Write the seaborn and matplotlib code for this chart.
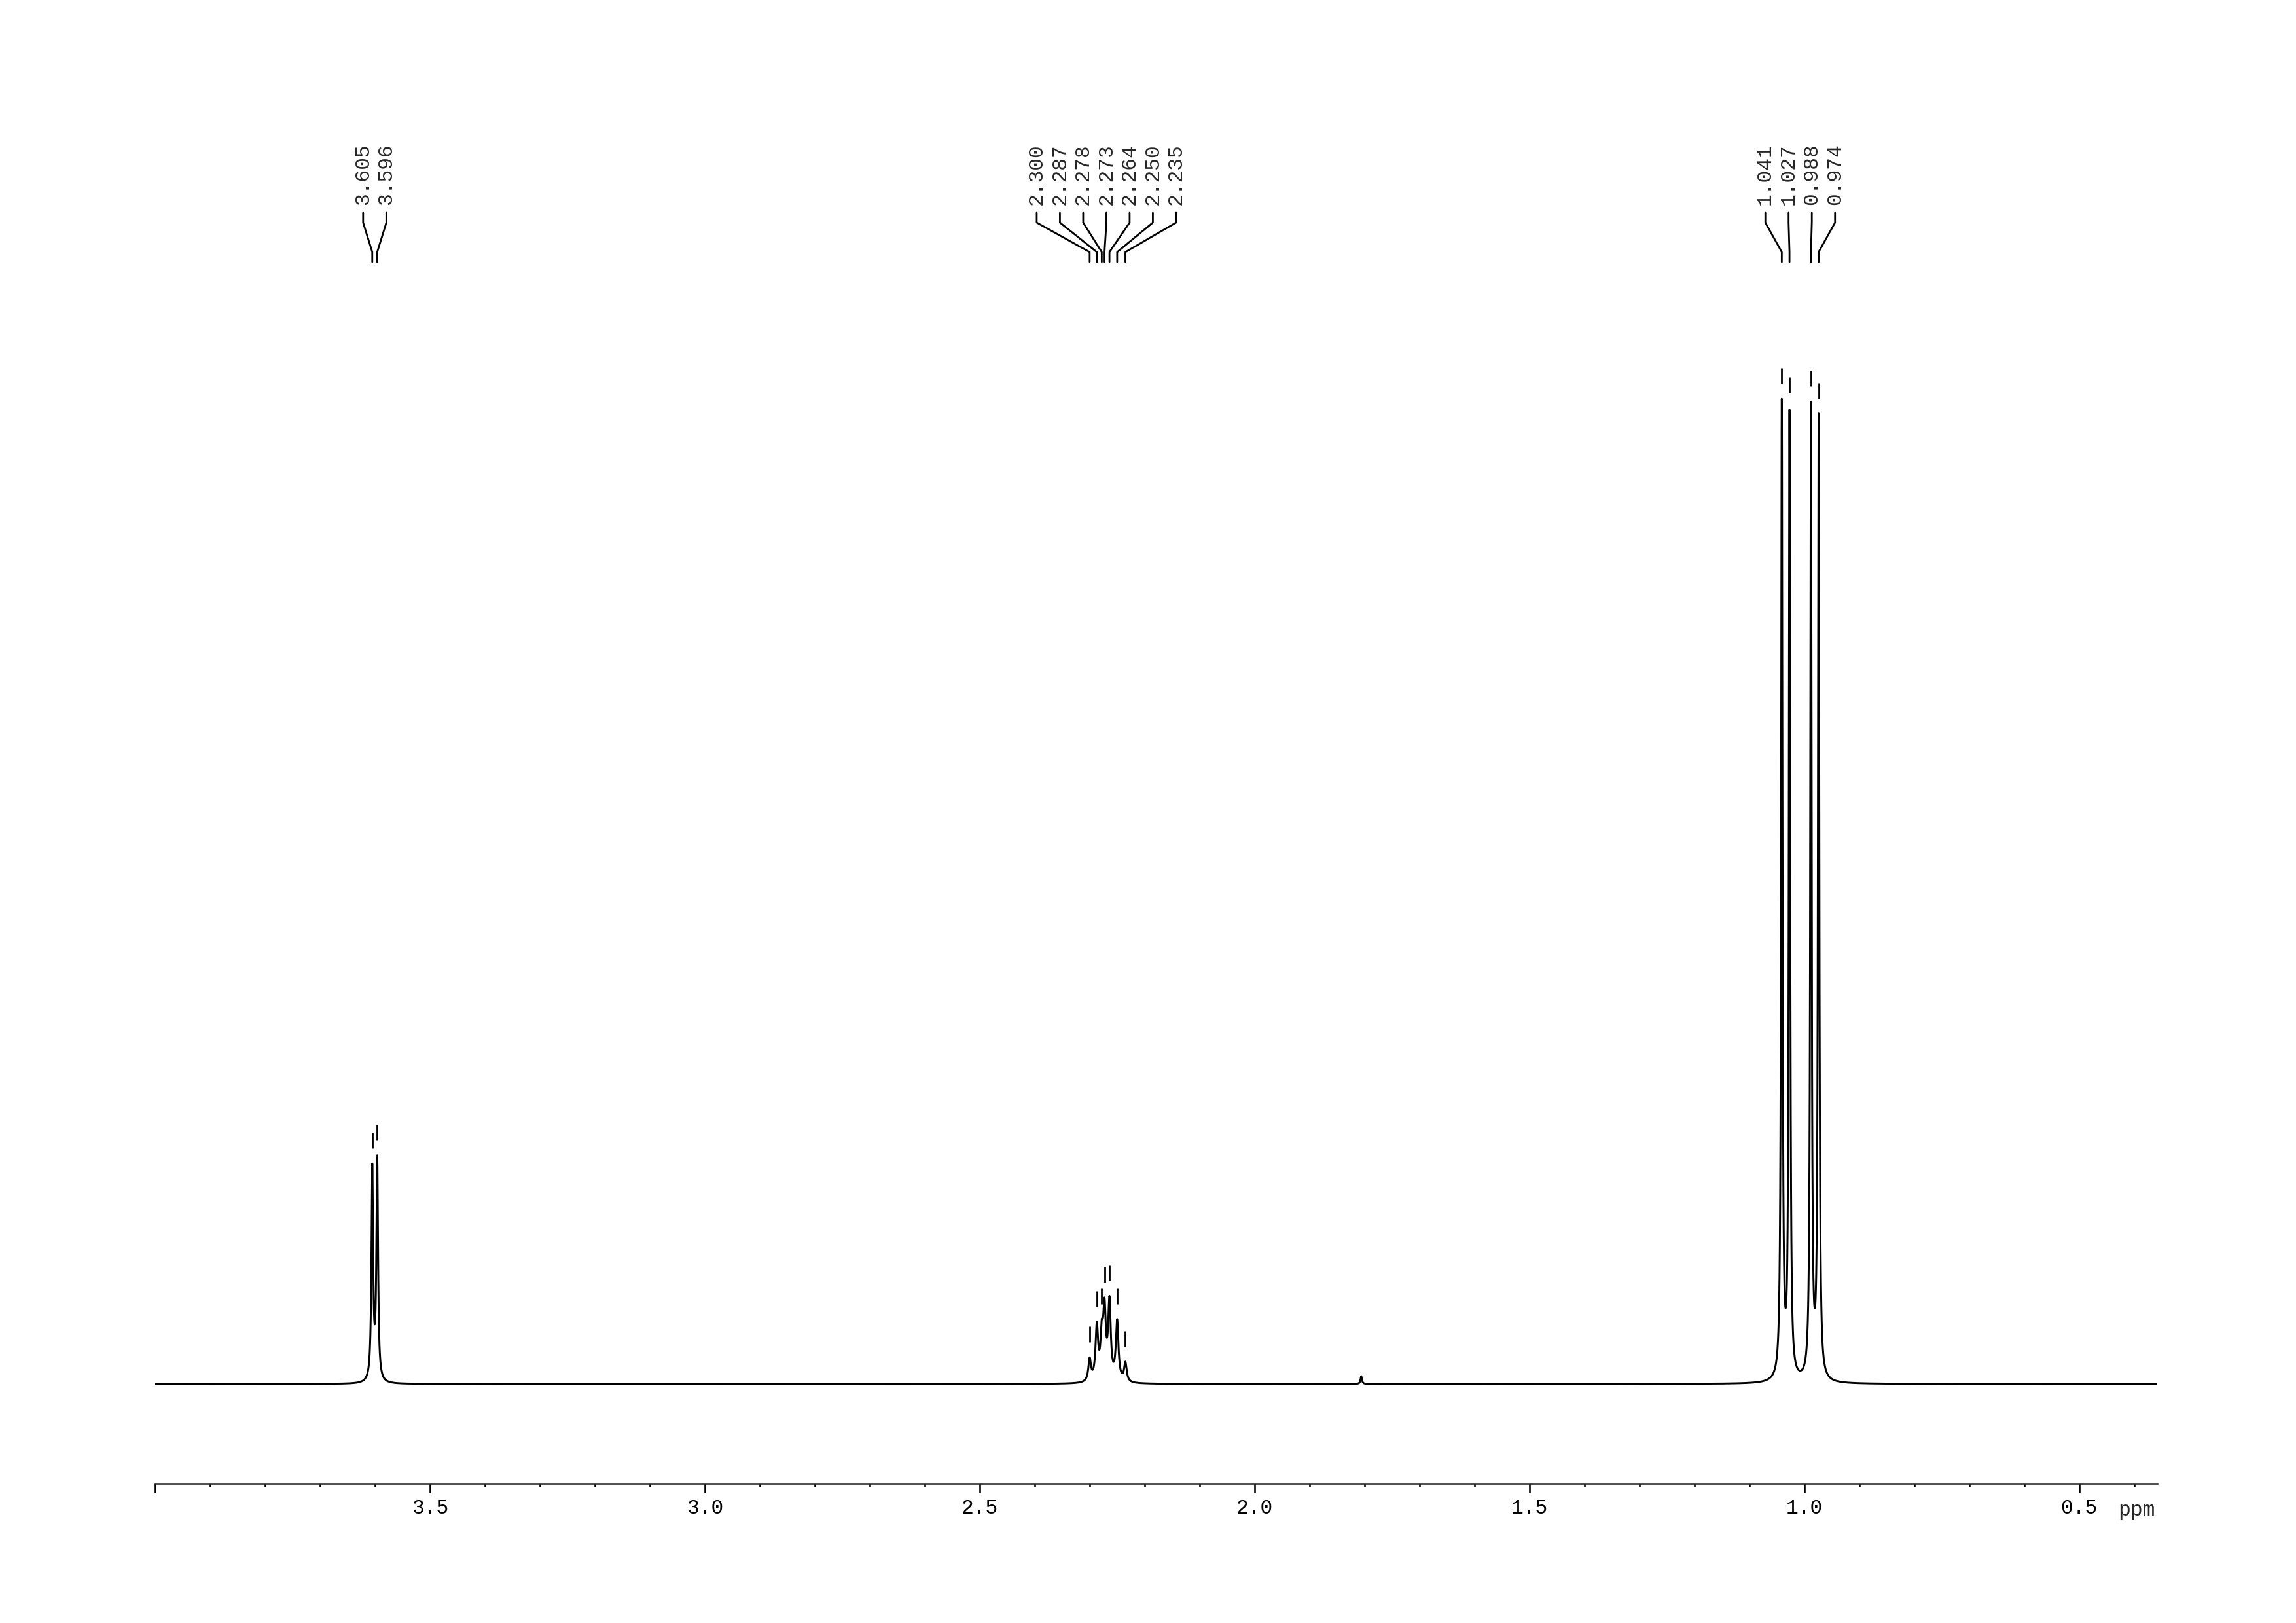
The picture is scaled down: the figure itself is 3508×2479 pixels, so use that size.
import numpy as np
import pandas as pd
import matplotlib
matplotlib.use('Agg')
import matplotlib.pyplot as plt
import seaborn as sns
from matplotlib.transforms import blended_transform_factory

# Peak table (ppm, height above baseline, half width in ppm)
peak_ppm = [3.605, 3.596,
            2.300, 2.287, 2.278, 2.273, 2.264, 2.250, 2.235,
            1.806,
            1.041, 1.027, 0.988, 0.974]
peak_height = [324, 337,
               34, 82, 61, 102, 118, 91, 29,
               12,
               1489, 1473, 1484, 1466]
peak_width = [0.0018, 0.0018,
              0.0028, 0.0028, 0.0028, 0.0028, 0.0028, 0.0028, 0.0028,
              0.0015,
              0.0014, 0.0014, 0.0014, 0.0014]

# Peak picking labels, grouped as printed above the spectrum
label_groups = [
    [3.605, 3.596],
    [2.300, 2.287, 2.278, 2.273, 2.264, 2.250, 2.235],
    [1.041, 1.027, 0.988, 0.974],
]

major_ticks = [4.0, 3.5, 3.0, 2.5, 2.0, 1.5, 1.0, 0.5]
major_labels = ['', '3.5', '3.0', '2.5', '2.0', '1.5', '1.0', '0.5']
minor_ticks = [round(4.0 - 0.1 * i, 1) for i in range(37)]

# Build spectrum from Lorentzian lines
ppm = np.linspace(4.0, 0.358, 30000)
intensity = np.zeros_like(ppm)
for p, h, w in zip(peak_ppm, peak_height, peak_width):
    intensity += h / (1 + ((ppm - p) / w) ** 2)
spec = pd.DataFrame({'ppm': ppm, 'intensity': intensity})

sns.set_style("white")
plt.rcParams['font.family'] = ['Liberation Mono', 'DejaVu Sans Mono']

W, H = 3508, 2479
fig = plt.figure(figsize=(W / 250, H / 250), dpi=250)
ax = fig.add_axes([237 / W, (H - 2266) / H, (3296 - 237) / W, (2266 - 150) / H])

sns.lineplot(data=spec, x='ppm', y='intensity', ax=ax, color='black',
             linewidth=0.85, sort=False, estimator=None)

ax.set_xlim(4.0, 0.358)
ax.set_ylim(-152, 1964)

# axis styling like a printed NMR plot
sns.despine(ax=ax, left=True)
ax.spines['bottom'].set_linewidth(0.75)
ax.set_yticks([])
ax.set_ylabel('')
ax.set_xlabel('')
ax.set_xticks(major_ticks)
ax.set_xticklabels(major_labels)
ax.set_xticks(minor_ticks, minor=True)
ax.tick_params(axis='x', which='both', bottom=True, color='black')
ax.tick_params(axis='x', which='major', direction='out', length=4.1, width=0.75,
               pad=2.5, labelsize=9, labelcolor='black')
ax.tick_params(axis='x', which='minor', direction='out', length=1.5, width=0.75)
ax.text(0.4286, 1 - 2292 / H, 'ppm', fontsize=9, ha='left', va='top',
        transform=blended_transform_factory(ax.transData, fig.transFigure))


def curve_at(x):
    return sum(h / (1 + ((x - p) / w) ** 2) for p, h, w in zip(peak_ppm, peak_height, peak_width))


# peak labels with leader lines
trans = blended_transform_factory(ax.transData, fig.transFigure)
pitch = 35.5 / 840
for group in label_groups:
    n = len(group)
    center = np.mean(group)
    for k, p in enumerate(group):
        lx = center + ((n - 1) / 2 - k) * pitch
        ys = [1 - y / H for y in (325, 340, 385, 400)]
        ax.plot([lx, lx, p, p], ys, color='black', linewidth=0.8,
                transform=trans, clip_on=False)
        ax.text(lx, 1 - 313 / H, f'{p:.3f}', rotation=90, fontsize=9,
                ha='center', va='bottom', transform=trans)
        top = curve_at(p)
        ax.vlines(p, top + 23, top + 47, color='black', linewidth=0.8)

fig.savefig('out.png', dpi=250, facecolor='white')
plt.close(fig)
